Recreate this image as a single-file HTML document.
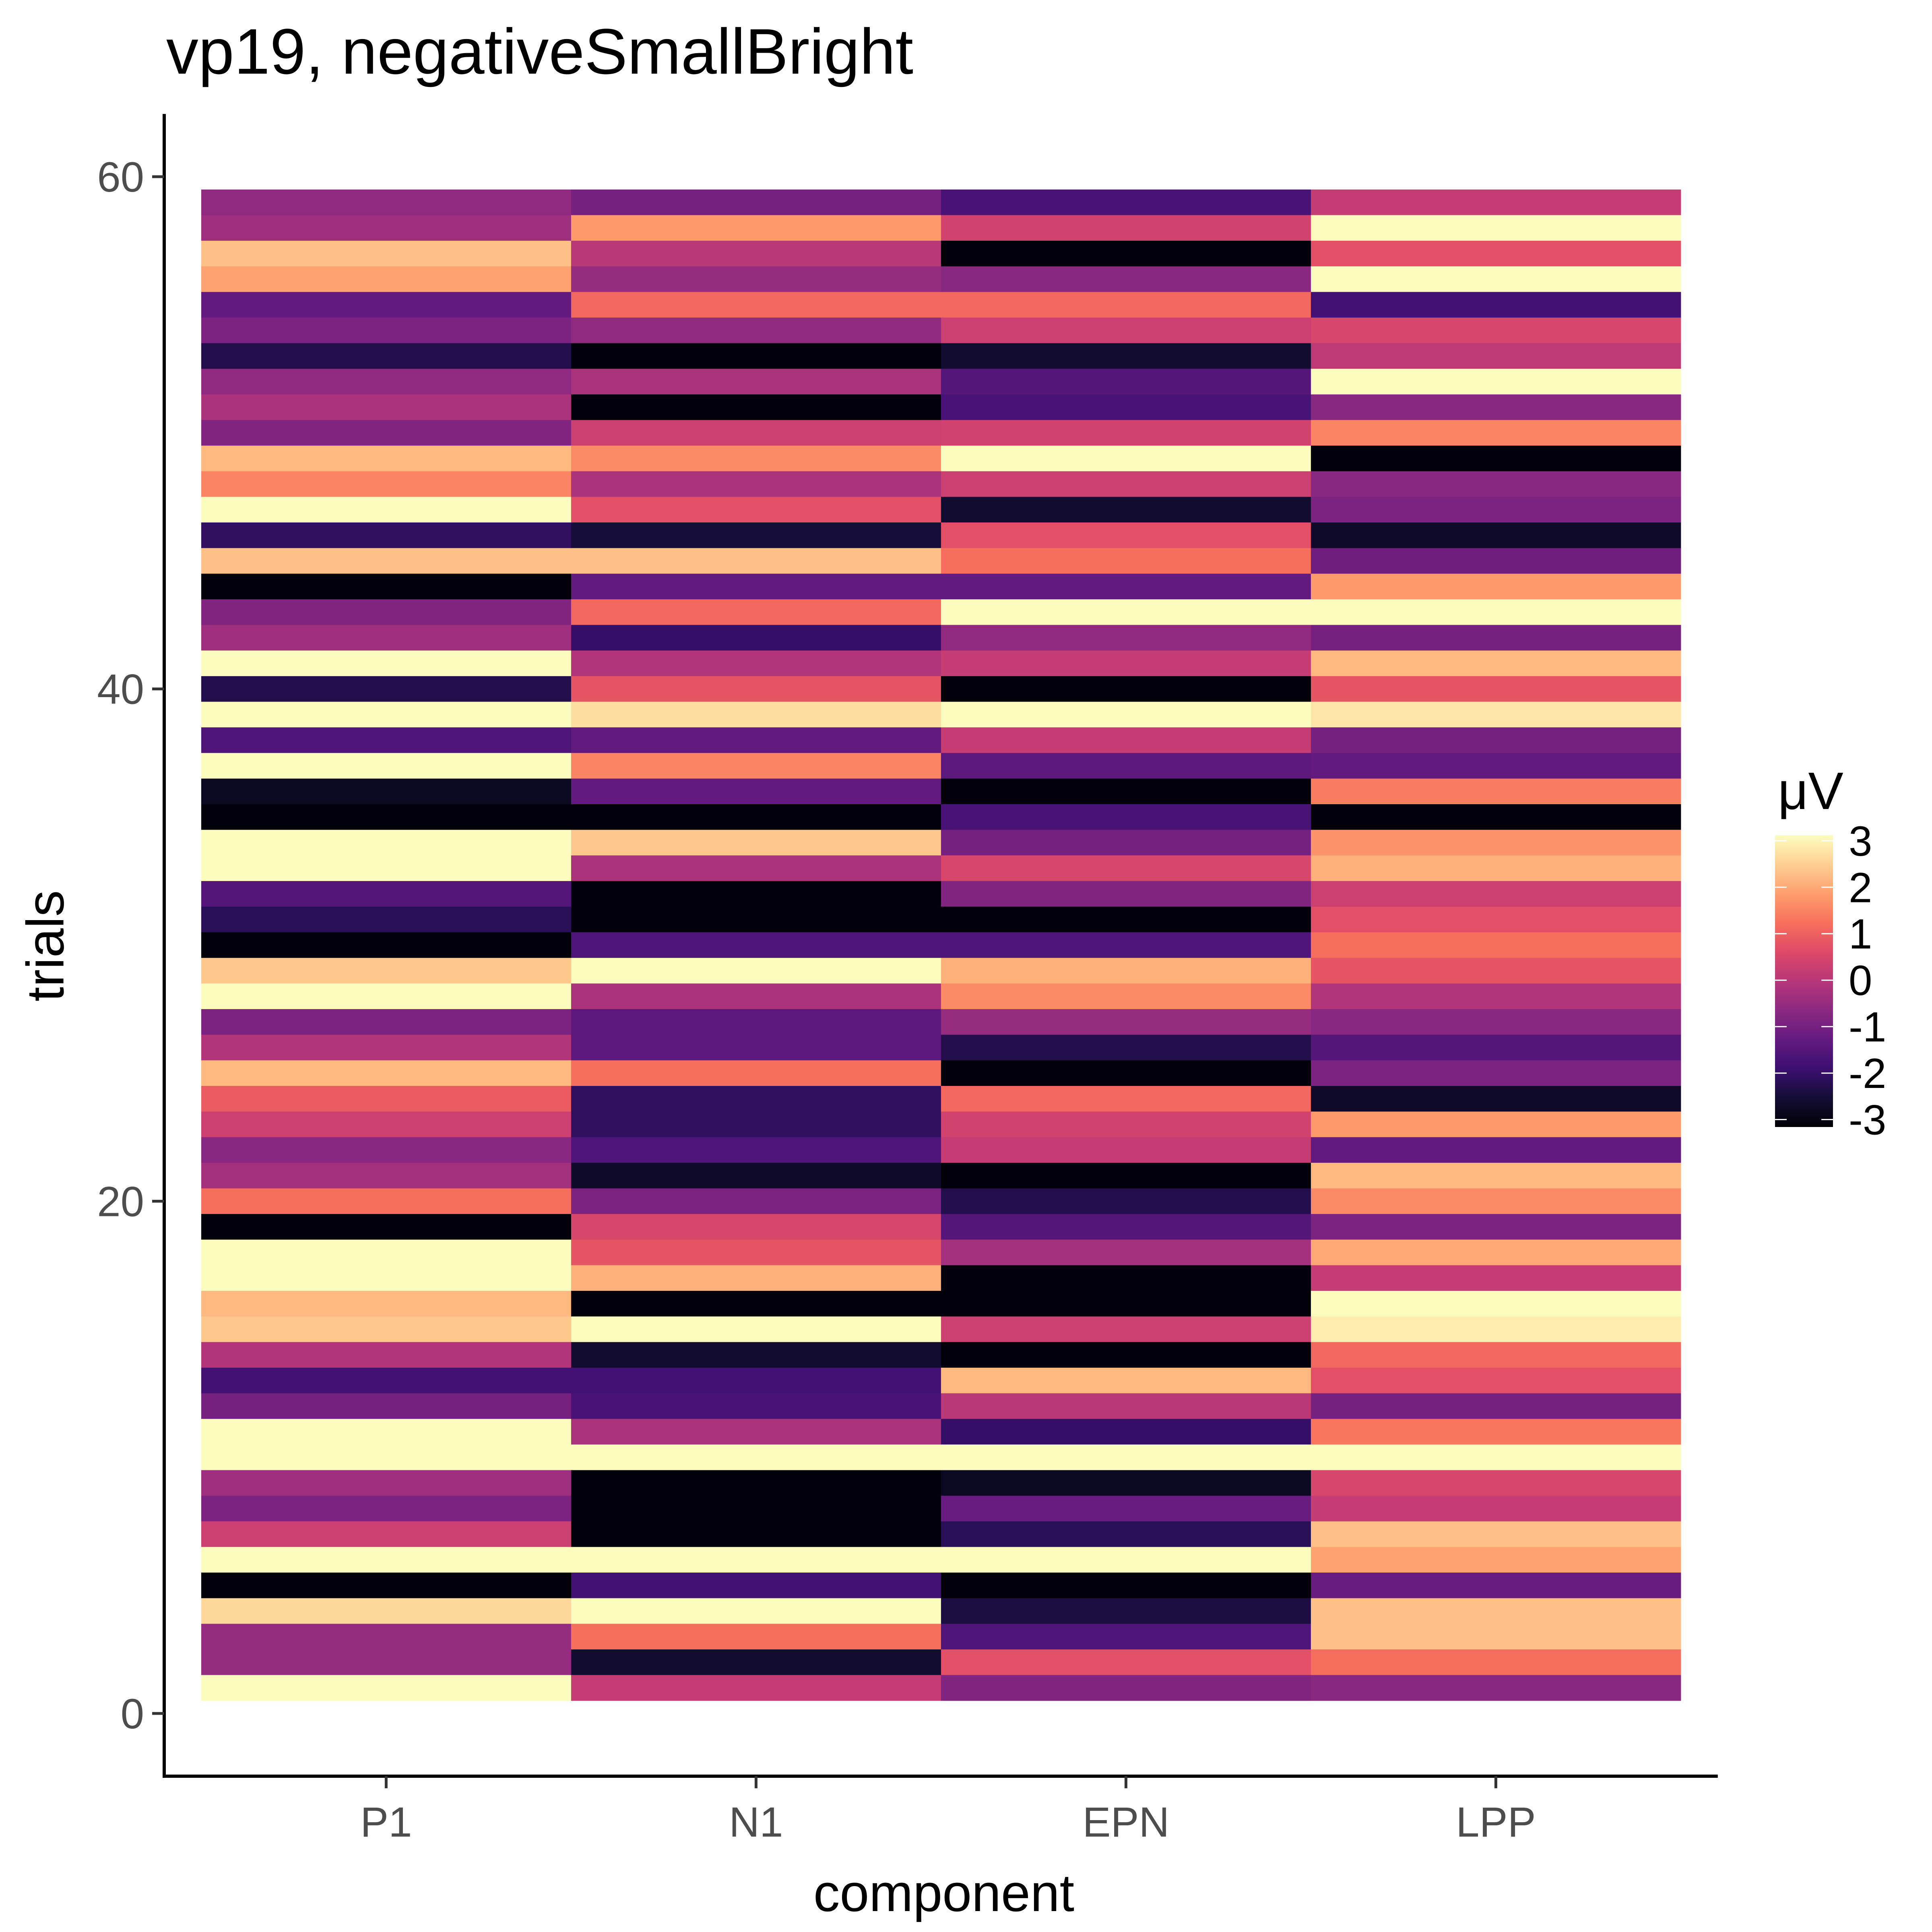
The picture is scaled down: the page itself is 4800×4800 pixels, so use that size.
<!DOCTYPE html>
<html><head><meta charset="utf-8"><style>
html,body{margin:0;padding:0;background:#fff}
svg{display:block;font-family:"Liberation Sans",Arial,sans-serif}
</style></head><body>
<svg id="chart" width="4800" height="4800" viewBox="0 0 4800 4800" xmlns="http://www.w3.org/2000/svg">
<defs>
<linearGradient id="magmaGrad" x1="0" y1="1" x2="0" y2="0"></linearGradient>
</defs>
<rect width="4800" height="4800" fill="#fff"/>
<text x="413" y="183" font-size="160" textLength="1856" lengthAdjust="spacingAndGlyphs" fill="#000">vp19, negativeSmallBright</text>
<g id="tiles"></g>
<g id="axes"></g>
<text x="2345" y="4748" font-size="131" text-anchor="middle" fill="#000">component</text>
<text transform="translate(123,2350) rotate(-90)" font-size="131" text-anchor="middle" dominant-baseline="middle" fill="#000">trials</text>
<g id="legend"></g>
</svg>
<script>
// Data (rows listed from trial 59 at the top down to trial 1)
const components = ["P1", "N1", "EPN", "LPP"];
const nTrials = 59;
const p1Values = [-0.6,-0.4,2.3,1.9,-1.3,-0.9,-2.3,-0.6,-0.2,-0.8,2.2,1.5,3.1,-2.1,2.3,-3.1,-0.8,-0.4,3.1,-2.3,3.1,-1.6,3.1,-2.8,-3.1,3.1,3.1,-1.5,-2.2,-3.1,2.4,3.1,-0.9,-0.1,2.2,0.9,0.3,-0.7,-0.3,1.2,-3.1,3.1,3.1,2.2,2.4,-0.1,-1.8,-1.0,3.1,3.1,-0.4,-0.9,0.3,3.1,-3.1,2.6,-0.5,-0.5,3.1];
const n1Values = [-1.0,1.8,0.0,-0.5,1.1,-0.6,-3.1,-0.2,-3.1,0.3,1.6,-0.2,0.7,-2.5,2.3,-1.3,1.1,-2.0,-0.1,0.8,2.7,-1.3,1.5,-1.3,-3.1,2.4,-0.2,-3.1,-3.1,-1.6,3.1,-0.2,-1.4,-1.4,1.2,-2.1,-2.1,-1.6,-2.7,-0.9,0.5,0.8,2.1,-3.1,3.1,-2.6,-1.8,-1.7,-0.2,3.1,-3.1,-3.1,-3.1,3.1,-1.8,3.1,1.2,-2.6,0.2];
const epnValues = [-1.7,0.4,-3.1,-0.7,1.1,0.3,-2.6,-1.5,-1.7,0.4,3.1,0.3,-2.6,0.7,1.2,-1.3,3.1,-0.6,0.2,-3.1,3.1,0.2,-1.4,-3.1,-1.7,-1.0,0.5,-0.8,-3.1,-1.6,2.1,1.6,-0.5,-2.3,-3.1,1.1,0.4,0.2,-3.1,-2.3,-1.5,-0.3,-3.1,-3.1,0.3,-3.1,2.2,0.0,-2.0,3.1,-2.8,-1.2,-2.2,3.1,-3.1,-2.4,-1.6,0.7,-0.8];
const lppValues = [0.2,3.1,0.7,3.1,-1.8,0.5,0.1,3.1,-0.7,1.5,-3.1,-0.7,-0.9,-2.7,-1.1,1.8,3.1,-1.0,2.2,0.8,2.8,-1.0,-1.3,1.4,-3.1,1.7,2.1,0.3,0.7,1.2,0.8,-0.1,-0.7,-1.5,-0.9,-2.7,1.8,-1.3,2.2,1.6,-0.9,2.0,0.2,3.1,2.9,1.1,0.7,-1.0,1.3,3.1,0.5,0.2,2.3,1.9,-1.2,2.3,2.3,1.2,-0.7];
const yTicks = [0, 20, 40, 60];
const legendTicks = [-3, -2, -1, 0, 1, 2, 3];
const colorLimits = [-3.16, 3.12];

const seriesValues = [p1Values, n1Values, epnValues, lppValues];
const NS = "http://www.w3.org/2000/svg";
const magma = ["#000004","#140e36","#3b0f70","#641a80","#8c2981","#b73779","#de4968","#f7705c","#fe9f6d","#fecf92","#fcfdbf"];
function hex(c){return [1,3,5].map(i=>parseInt(c.substr(i,2),16));}
function colorOf(v){
  let t=(v-colorLimits[0])/(colorLimits[1]-colorLimits[0]);
  t=Math.max(0,Math.min(1,t));
  const p=t*(magma.length-1), i=Math.min(Math.floor(p),magma.length-2), f=p-i;
  const a=hex(magma[i]), b=hex(magma[i+1]);
  return "rgb("+a.map((x,k)=>Math.round(x+(b[k]-x)*f)).join(",")+")";
}
// axis functions
const xLeft=408, xStep=919, xFirst=xLeft+0.6*xStep;
function xScale(i){return xFirst+i*xStep;}
const y0=4257, y60=439;
function yScale(v){return y0+(y60-y0)*v/60;}
const yTop=yScale(62.45), yBottom=yScale(-2.45), xRight=xScale(3)+0.6*xStep;

function mk(tag,attrs,parent){const e=document.createElementNS(NS,tag);for(const k in attrs)e.setAttribute(k,attrs[k]);parent.appendChild(e);return e;}

const tiles=document.getElementById("tiles");
seriesValues.forEach((vals,ci)=>{
  vals.forEach((v,i)=>{
    const trial=nTrials-i;
    const r=mk("rect",{x:xScale(ci)-xStep/2,y:yScale(trial+0.5),width:xStep+0.5,height:yScale(trial-0.5)-yScale(trial+0.5)+0.5,fill:colorOf(v)},tiles);
    
    
  });
});

const axes=document.getElementById("axes");
let l=mk("line",{x1:xLeft,y1:yTop,x2:xLeft,y2:yBottom+4,stroke:"#000","stroke-width":8},axes);


l=mk("line",{x1:xLeft-4,y1:yBottom,x2:xRight,y2:yBottom,stroke:"#000","stroke-width":8},axes);


yTicks.forEach(t=>{
  const y=yScale(t);
  const tk=mk("line",{x1:xLeft-30,y1:y,x2:xLeft,y2:y,stroke:"#333","stroke-width":7},axes);
  
  
  const tx=mk("text",{x:xLeft-50,y:y+37,"font-size":105,"text-anchor":"end",fill:"#4d4d4d"},axes);
  tx.textContent=t;
  
  
});
components.forEach((c,i)=>{
  const x=xScale(i);
  const tk=mk("line",{x1:x,y1:yBottom,x2:x,y2:yBottom+30,stroke:"#333","stroke-width":7},axes);
  
  
  const tx=mk("text",{x:x,y:yBottom+150,"font-size":105,"text-anchor":"middle",fill:"#4d4d4d"},axes);
  tx.textContent=c;
  
  
});

// legend
const lg=document.getElementById("legend");
const grad=document.getElementById("magmaGrad");
magma.forEach((c,i)=>{mk("stop",{offset:(i/(magma.length-1)*100)+"%","stop-color":c},grad);});
const barX=4410, barW=144, barTop=2075, barBot=2800;
function lScale(v){return barBot+(barTop-barBot)*(v-colorLimits[0])/(colorLimits[1]-colorLimits[0]);}
const lt=mk("text",{x:4417,y:2010,"font-size":131,fill:"#000"},lg);
lt.textContent="μV";


const bar=mk("rect",{x:barX,y:barTop,width:barW,height:barBot-barTop,fill:"url(#magmaGrad)"},lg);


legendTicks.forEach(t=>{
  const y=lScale(t);
  const a=mk("line",{x1:barX,y1:y,x2:barX+29,y2:y,stroke:"#fff","stroke-width":3},lg);
  
  
  const b=mk("line",{x1:barX+barW-29,y1:y,x2:barX+barW,y2:y,stroke:"#fff","stroke-width":3},lg);
  
  
  const tx=mk("text",{x:4593,y:y+37,"font-size":105,fill:"#000"},lg);
  tx.textContent=t;
  
  
});
</script>
</body></html>
